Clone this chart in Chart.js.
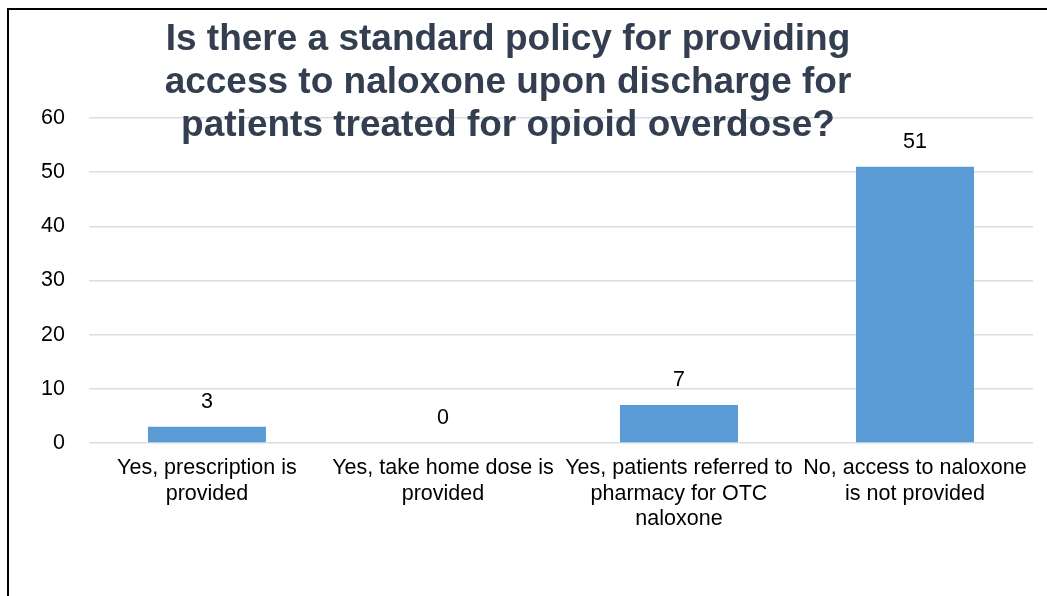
<!DOCTYPE html>
<html>
<head>
<meta charset="utf-8">
<script src="https://cdn.jsdelivr.net/npm/chart.js@4"></script>
<style>
  html, body { margin: 0; padding: 0; background: #fff; }
  #wrap { position: relative; width: 1047px; height: 596px; overflow: hidden; }
  #frame { position: absolute; left: 7px; top: 8px; width: 1100px; height: 700px;
           border-left: 2px solid #000; border-top: 2px solid #000; }
  #chart { position: absolute; left: 0; top: 0; }
  #title { position: absolute; left: 0; top: 16px; width: 1016px; text-align: center;
           font-family: "Liberation Sans", Arial, sans-serif; font-weight: bold;
           font-size: 37px; line-height: 43px; color: #333f50; }
</style>
</head>
<body>
<div id="wrap">
  <div id="frame"></div>
  <canvas id="chart" width="1047" height="596"></canvas>
  <div id="title">Is there a standard policy for providing<br>access to naloxone upon discharge for<br>patients treated for opioid overdose?</div>
</div>
<script>
// answers (wrapped like the original axis labels)
let categories = [
  ["Yes, prescription is", "provided"],
  ["Yes, take home dose is", "provided"],
  ["Yes, patients referred to", "pharmacy for OTC", "naloxone"],
  ["No, access to naloxone", "is not provided"]
]
let counts = [3, 0, 7, 51]

let yTicks = [0, 10, 20, 30, 40, 50, 60]

const fontFamily = '"Liberation Sans", Arial, sans-serif'

// puts the count above each bar
const barLabels = {
  id: 'barLabels',
  afterDatasetsDraw(chart) {
    const ctx = chart.ctx
    const meta = chart.getDatasetMeta(0)
    ctx.save()
    ctx.font = '21.5px ' + fontFamily
    ctx.fillStyle = '#000'
    ctx.textAlign = 'center'
    ctx.textBaseline = 'middle'
    meta.data.forEach(function(bar, i) {
      ctx.fillText(String(counts[i]), bar.x, bar.y - 25)
    })
    ctx.restore()
  }
}

let ctx = document.getElementById('chart').getContext('2d')

let chart = new Chart(ctx, {
  type: 'bar',
  data: {
    labels: categories,
    datasets: [{
      data: counts,
      backgroundColor: '#5b9bd5',
      borderWidth: 0,
      barPercentage: 0.5,
      categoryPercentage: 1
    }]
  },
  options: {
    responsive: false,
    animation: false,
    layout: { padding: { left: 17, right: 14, top: 118, bottom: 59 } },
    plugins: {
      legend: { display: false },
      tooltip: { enabled: false },
      title: { display: false }
    },
    scales: {
      x: {
        grid: { display: false },
        border: { display: false },
        ticks: {
          color: '#000',
          padding: 5,
          maxRotation: 0,
          autoSkip: false,
          font: { family: fontFamily, size: 21.5, lineHeight: 1.18 }
        }
      },
      y: {
        min: yTicks[0],
        max: yTicks[yTicks.length - 1],
        afterBuildTicks: function(axis) {
          axis.ticks = yTicks.map(function(v) { return { value: v } })
        },
        grid: { color: '#d9dee6', lineWidth: 1.5, drawTicks: false },
        border: { display: false },
        ticks: {
          color: '#000',
          padding: 24,
          font: { family: fontFamily, size: 21.5 }
        }
      }
    }
  },
  plugins: [barLabels]
})
</script>
</body>
</html>
